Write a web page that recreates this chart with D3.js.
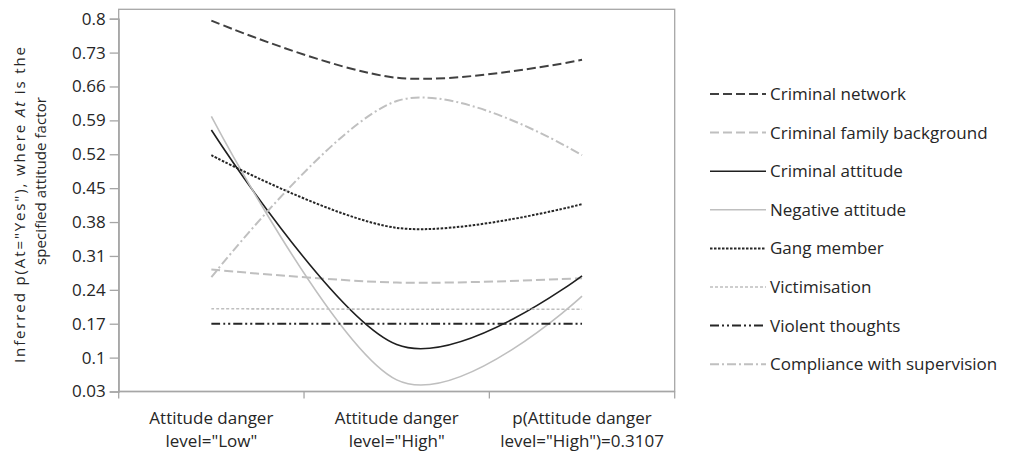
<!DOCTYPE html>
<html>
<head>
<meta charset="utf-8">
<script src="https://cdn.jsdelivr.net/npm/d3@7"></script>
<style>
  body { margin: 0; background: #fff; }
  text { font-family: "Open Sans", sans-serif; fill: #262626; }
</style>
</head>
<body>
<div id="chart"></div>
<script>
// categories (two lines each)
var categories = ['Attitude danger|level="Low"', 'Attitude danger|level="High"', 'p(Attitude danger|level="High")=0.3107'];
var yTicks = [0.03, 0.1, 0.17, 0.24, 0.31, 0.38, 0.45, 0.52, 0.59, 0.66, 0.73, 0.8];
var yTickLabels = ["0.03", "0.1", "0.17", "0.24", "0.31", "0.38", "0.45", "0.52", "0.59", "0.66", "0.73", "0.8"];

var seriesNames = ["Criminal network", "Criminal family background", "Criminal attitude", "Negative attitude",
                   "Gang member", "Victimisation", "Violent thoughts", "Compliance with supervision"];
var criminalNetwork = [0.796, 0.678, 0.715];
var familyBackground = [0.282, 0.255, 0.264];
var criminalAttitude = [0.570, 0.127, 0.269];
var negativeAttitude = [0.598, 0.054, 0.227];
var gangMember = [0.518, 0.368, 0.417];
var victimisation = [0.201, 0.200, 0.200];
var violentThoughts = [0.170, 0.170, 0.170];
var compliance = [0.266, 0.630, 0.518];

var seriesStyle = [
	{color: "#404040", width: 2, dash: "9,4"},
	{color: "#bfbfbf", width: 2, dash: "9,4"},
	{color: "#1f1f1f", width: 1.6, dash: null},
	{color: "#bfbfbf", width: 1.6, dash: null},
	{color: "#262626", width: 2, dash: "2.5,1.5"},
	{color: "#bfbfbf", width: 1.6, dash: "3,2"},
	{color: "#262626", width: 2, dash: "9,3,2,3,2,3"},
	{color: "#c0c0c0", width: 2, dash: "9,3,2,3"}
];
var values = [criminalNetwork, familyBackground, criminalAttitude, negativeAttitude,
              gangMember, victimisation, violentThoughts, compliance];

var W = 1022, H = 456;
var plotL = 118.7, plotR = 674.7, plotT = 9.3, plotB = 391.5;
var fs = "17px";

var svg = d3.select("#chart").append("svg").attr("width", W).attr("height", H);

var x = d3.scaleBand().domain(categories).range([plotL, plotR]).padding(0);
var y = d3.scaleLinear().domain([0.03, 0.8]).range([plotB, 18.7]);

// plot border
svg.append("rect")
	.attr("x", plotL).attr("y", plotT)
	.attr("width", plotR - plotL).attr("height", plotB - plotT)
	.style("fill", "none").style("stroke", "#a6a6a6").style("stroke-width", 1.3);

// y axis
var yAxis = svg.append("g")
	.attr("transform", "translate(" + plotL + ",0)")
	.call(d3.axisLeft(y).tickValues(yTicks).tickSize(9).tickPadding(4)
		.tickFormat(function(d,i){ return yTickLabels[i]; }));
yAxis.select(".domain").style("stroke", "#a6a6a6").style("stroke-width", 1.3);
yAxis.selectAll(".tick line").style("stroke", "#a6a6a6").style("stroke-width", 1.3);
yAxis.selectAll(".tick text").style("font-size", fs).style("fill", "#262626")
	.style("font-family", "'Open Sans', sans-serif");

// x axis
svg.append("line")
	.attr("x1", plotL).attr("x2", plotR).attr("y1", plotB).attr("y2", plotB)
	.style("stroke", "#a6a6a6").style("stroke-width", 1.3);
var boundaries = categories.map(function(c){ return x(c); }).concat([plotR]);
svg.selectAll(".xtick").data(boundaries).enter().append("line")
	.attr("class", "xtick")
	.attr("x1", function(d){ return d; }).attr("x2", function(d){ return d; })
	.attr("y1", plotB).attr("y2", plotB + 7)
	.style("stroke", "#a6a6a6").style("stroke-width", 1.3);

var xLab = svg.selectAll(".xlab").data(categories).enter().append("text")
	.attr("class", "xlab")
	.attr("text-anchor", "middle")
	.style("font-size", fs);
xLab.each(function(d){
	var parts = d.split("|");
	var t = d3.select(this);
	parts.forEach(function(p, i){
		t.append("tspan")
			.attr("x", x(d) + x.bandwidth()/2)
			.attr("y", 424 + i*23)
			.text(p);
	});
});

// y axis title
var title = svg.append("text")
	.attr("transform", "rotate(-90)")
	.style("font-size", "15px");
var t1 = title.append("tspan").attr("x", -363).attr("y", 25)
	.attr("textLength", 316).attr("lengthAdjust", "spacing");
t1.append("tspan").text('Inferred p(At="Yes"), where ');
t1.append("tspan").style("font-style", "italic").text("At");
t1.append("tspan").text(" is the");
title.append("tspan").attr("x", -265).attr("y", 46)
	.attr("textLength", 168).attr("lengthAdjust", "spacing")
	.text("specified attitude factor");

// lines
var line = d3.line()
	.x(function(d, i){ return x(categories[i]) + x.bandwidth()/2; })
	.y(function(d){ return y(d); })
	.curve(d3.curveCardinal.tension(0));

svg.selectAll(".series").data(values).enter().append("path")
	.attr("class", "series")
	.attr("d", function(d){ return line(d); })
	.style("fill", "none")
	.style("stroke", function(d,i){ return seriesStyle[i].color; })
	.style("stroke-width", function(d,i){ return seriesStyle[i].width; })
	.style("stroke-dasharray", function(d,i){ return seriesStyle[i].dash; });

// legend
var legend = svg.selectAll(".legend").data(seriesNames).enter().append("g")
	.attr("class", "legend")
	.attr("transform", function(d,i){ return "translate(710," + (94 + i*38.6) + ")"; });
legend.append("line")
	.attr("x1", 0).attr("x2", 56).attr("y1", 0).attr("y2", 0)
	.style("stroke", function(d,i){ return seriesStyle[i].color; })
	.style("stroke-width", function(d,i){ return seriesStyle[i].width; })
	.style("stroke-dasharray", function(d,i){ return seriesStyle[i].dash; });
legend.append("text")
	.attr("x", 60).attr("y", 0).attr("dy", "0.35em")
	.style("font-size", fs)
	.text(function(d){ return d; });
</script>
</body>
</html>
